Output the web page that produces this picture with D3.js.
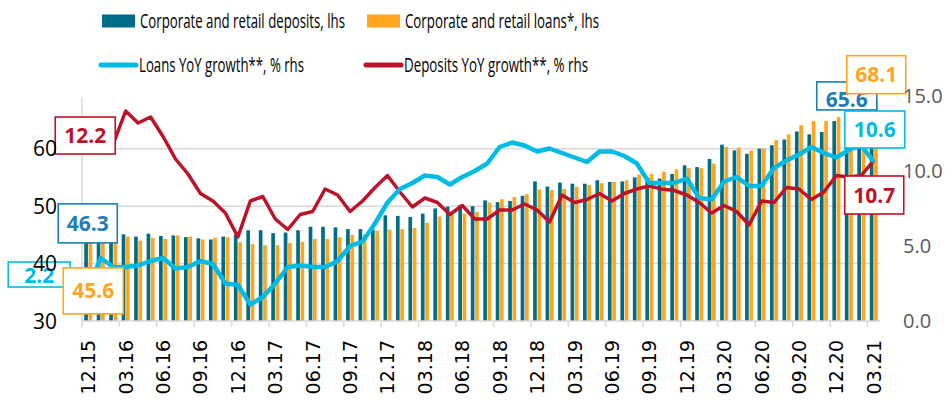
<!DOCTYPE html>
<html>
<head>
<meta charset="utf-8">
<script src="https://cdn.jsdelivr.net/npm/d3@7"></script>
<style>
body{margin:0;background:#fff;}
svg{display:block;font-family:"Open Sans",sans-serif;}
</style>
</head>
<body>
<div id="chart"></div>
<script>
let width= 947;
let height= 400;

const months=["12.15","01.16","02.16","03.16","04.16","05.16","06.16","07.16","08.16","09.16","10.16","11.16",
"12.16","01.17","02.17","03.17","04.17","05.17","06.17","07.17","08.17","09.17","10.17","11.17",
"12.17","01.18","02.18","03.18","04.18","05.18","06.18","07.18","08.18","09.18","10.18","11.18",
"12.18","01.19","02.19","03.19","04.19","05.19","06.19","07.19","08.19","09.19","10.19","11.19",
"12.19","01.20","02.20","03.20","04.20","05.20","06.20","07.20","08.20","09.20","10.20","11.20",
"12.20","01.21","02.21","03.21"];

const deposits=[46.3,45.6,45.2,45.1,44.7,45.2,44.8,44.9,44.6,44.4,44.2,44.7,
45.0,45.8,45.8,45.3,45.4,45.8,46.4,46.4,46.3,46.0,46.0,45.9,
48.4,48.3,48.1,48.7,49.6,49.9,50.2,50.0,51.0,50.7,50.9,51.8,
54.3,53.4,54.1,53.9,53.9,54.5,54.2,54.3,55.0,55.0,54.8,55.6,
57.1,56.8,58.2,60.7,59.7,59.1,60.0,60.6,61.6,63.0,62.5,62.9,
64.8,65.0,65.3,65.6];

const loans=[45.6,44.9,45.0,44.7,44.0,44.5,44.3,44.9,44.7,44.2,44.5,44.6,
43.7,43.4,43.2,43.2,43.6,43.8,44.3,44.3,44.6,45.0,45.1,45.7,
45.9,46.0,46.2,47.1,48.2,48.5,48.7,49.0,50.6,51.2,51.6,52.1,
52.9,52.8,53.0,53.4,53.7,54.0,54.2,54.5,55.5,55.6,56.0,56.4,
56.6,56.6,57.4,60.3,60.2,59.7,60.0,61.5,62.5,64.1,64.8,64.8,
65.5,66.5,67.3,68.1];

const loansGrowth=[2.2,4.2,3.6,3.6,3.7,4.0,4.2,3.5,3.6,4.0,3.8,2.5,
2.4,1.1,1.6,2.5,3.6,3.7,3.6,3.6,4.0,5.0,5.3,6.5,
7.9,8.8,9.2,9.7,9.6,9.1,9.6,10.0,10.5,11.6,11.9,11.7,
11.3,11.5,11.2,10.9,10.6,11.3,11.3,11.0,10.5,9.2,9.2,9.2,
9.5,8.2,8.1,9.3,9.6,9.0,9.0,10.2,10.7,11.1,11.6,11.2,
10.9,11.4,11.7,10.6];

const depositsGrowth=[12.2,12.0,11.8,14.0,13.2,13.6,12.3,10.8,9.8,8.5,8.0,7.2,
5.6,8.0,8.3,6.8,6.1,7.1,7.3,8.8,8.4,7.3,8.0,8.9,
9.7,8.6,7.6,8.2,7.9,7.1,7.7,6.8,6.8,7.4,7.4,7.8,
7.4,6.6,8.4,7.9,8.1,8.5,8.0,8.5,8.8,9.0,8.8,8.7,
8.4,7.9,7.2,7.7,7.3,6.4,8.0,7.9,8.9,8.8,8.1,8.6,
9.7,9.6,9.7,10.7];

const leftTicks=[30,40,50,60];
const rightTicks=[0,5,10,15];

const colDep="#006c85", colLoan="#ffa520", colLG="#00bbe6", colDG="#be1229";

let svg= d3.select("#chart").append("svg").attr("width",width).attr("height",height);

let x= d3.scaleBand().domain(months).range([82,880]).paddingInner(0.36).paddingOuter(0.18);
let xs= d3.scaleBand().domain(["dep","loan"]).range([0,x.bandwidth()]).paddingInner(0.15);
let yL= d3.scaleLinear().domain([30,69]).range([321,97]);
let yR= d3.scaleLinear().domain([0,15]).range([321,96]);
let cx= d=> x(d)+x.bandwidth()/2;

// gridlines
svg.append("g").selectAll("line").data(leftTicks.slice(1)).enter().append("line")
.attr("x1",82).attr("x2",880).attr("y1",d=>yL(d)).attr("y2",d=>yL(d))
.attr("stroke","#d9d9d9").attr("stroke-width",1.5);

// bars
let rows= months.map((m,i)=>({m:m,dep:deposits[i],loan:loans[i]}));
let bars= svg.append("g");
bars.selectAll(".dep").data(rows).enter().append("rect")
.attr("x",d=>x(d.m)+xs("dep")).attr("width",xs.bandwidth())
.attr("y",d=>yL(d.dep)).attr("height",d=>yL(30)-yL(d.dep)).attr("fill",colDep);
bars.selectAll(".loan").data(rows).enter().append("rect")
.attr("x",d=>x(d.m)+xs("loan")).attr("width",xs.bandwidth())
.attr("y",d=>yL(d.loan)).attr("height",d=>yL(30)-yL(d.loan)).attr("fill",colLoan);

// axes lines
svg.append("line").attr("x1",82).attr("x2",82).attr("y1",97).attr("y2",321).attr("stroke","#d9d9d9").attr("stroke-width",1.5);
svg.append("line").attr("x1",82).attr("x2",880).attr("y1",321).attr("y2",321).attr("stroke","#d9d9d9").attr("stroke-width",1.5);

// x ticks every 3 months
let shown= months.filter((m,i)=>i%3===0);
svg.append("g").selectAll("line").data(shown).enter().append("line")
.attr("x1",d=>x(d)-x.step()*0.18).attr("x2",d=>x(d)-x.step()*0.18)
.attr("y1",321).attr("y2",327).attr("stroke","#d9d9d9").attr("stroke-width",1.5);
svg.append("g").selectAll("text").data(shown).enter().append("text")
.text(d=>d)
.attr("transform",d=>"translate("+(cx(d)+7)+",340) rotate(-90)")
.attr("text-anchor","end")
.attr("font-family","DejaVu Sans, sans-serif")
.attr("font-size",19).attr("fill","#000");

// lines
let lineG= d3.line().x((d,i)=>cx(months[i])).y(d=>yR(d));
svg.append("path").datum(depositsGrowth).attr("d",lineG)
.attr("fill","none").attr("stroke",colDG).attr("stroke-width",3.5).attr("stroke-linejoin","round");
svg.append("path").datum(loansGrowth).attr("d",lineG)
.attr("fill","none").attr("stroke",colLG).attr("stroke-width",4.5).attr("stroke-linejoin","round");

// value boxes
let last= months.length-1;
let boxes=[
 {t:depositsGrowth[0], c:colDG, px:cx(months[0]), py:yR(depositsGrowth[0]), dx:-3, dy:-2.5, w:60, h:37, ty:0},
 {t:deposits[0], c:"#1b7fb6", px:cx(months[0]), py:yL(deposits[0]), dx:-0.5, dy:-4, w:59, h:39, ty:0},
 {t:loansGrowth[0], c:colLG, px:cx(months[0]), py:yR(loansGrowth[0]), dx:-49, dy:-13.5, w:62, h:25, ty:1},
 {t:loans[0], c:colLoan, px:cx(months[0]), py:yL(loans[0]), dx:5, dy:59.5, w:60, h:46, ty:0},
 {t:deposits[last], c:"#1b7fb6", px:cx(months[last]), py:yL(deposits[last]), dx:-27, dy:-20.6, w:60, h:28, ty:4},
 {t:loans[last], c:colLoan, px:cx(months[last]), py:yL(loans[last]), dx:2.5, dy:-27.5, w:59, h:38, ty:0},
 {t:loansGrowth[last], c:colLG, px:cx(months[last]), py:yR(loansGrowth[last]), dx:1, dy:-32.5, w:60, h:37, ty:0},
 {t:depositsGrowth[last], c:colDG, px:cx(months[last]), py:yR(depositsGrowth[last]), dx:0.5, dy:34.5, w:59, h:38, ty:0}
];
let bg= svg.append("g").selectAll("g").data(boxes).enter().append("g")
.attr("transform",d=>"translate("+(d.px+d.dx)+","+(d.py+d.dy)+")");
bg.append("rect").attr("x",d=>-d.w/2).attr("y",d=>-d.h/2).attr("width",d=>d.w).attr("height",d=>d.h)
.attr("fill","#fff").attr("stroke",d=>d.c).attr("stroke-width",1.6);
bg.append("text").text(d=>d.t.toFixed(1)).attr("text-anchor","middle").attr("y",d=>d.ty).attr("dy","0.36em")
.attr("font-weight","bold").attr("font-size",21).attr("fill",d=>d.c);

// y axis labels
svg.append("g").selectAll("text").data(leftTicks).enter().append("text")
.text(d=>d).attr("x",57).attr("y",d=>yL(d)).attr("dy","0.36em")
.attr("text-anchor","end").attr("font-size",21).attr("fill","#000");
svg.append("g").selectAll("text").data(rightTicks).enter().append("text")
.text(d=>d.toFixed(1)).attr("x",903).attr("y",d=>yR(d)).attr("dy","0.36em")
.attr("font-size",20).attr("fill","#595959");

// legend
let legend=[
 {t:"Corporate and retail deposits, lhs", c:colDep, type:"bar", x:102, y:21, len:205},
 {t:"Corporate and retail loans*, lhs", c:colLoan, type:"bar", x:367, y:21, len:194},
 {t:"Loans YoY growth**, % rhs", c:colLG, type:"line", x:101, y:65, len:165},
 {t:"Deposits YoY growth**, % rhs", c:colDG, type:"line", x:366, y:65, len:184}
];
let lg= svg.append("g").selectAll("g").data(legend).enter().append("g")
.attr("transform",d=>"translate("+d.x+","+d.y+")");
lg.filter(d=>d.type==="bar").append("rect").attr("x",0).attr("y",-6.5).attr("width",33).attr("height",13).attr("fill",d=>d.c);
lg.filter(d=>d.type==="line").append("line").attr("x1",0).attr("x2",35).attr("y1",0).attr("y2",0)
.attr("stroke",d=>d.c).attr("stroke-width",5).attr("stroke-linecap","round");
lg.append("text").text(d=>d.t).attr("x",38).attr("dy","0.36em")
.attr("font-size",20).attr("fill","#000")
.attr("textLength",d=>d.len).attr("lengthAdjust","spacingAndGlyphs");
</script>
</body>
</html>
